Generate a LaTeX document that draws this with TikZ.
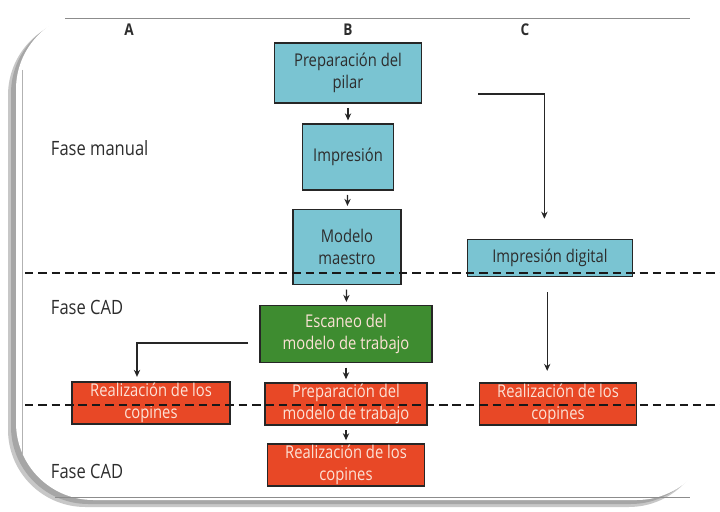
\documentclass[tikz,border=0pt]{standalone}
\usepackage{fontspec}
\setmainfont[FakeStretch=0.84]{Open Sans}
\usepackage{tikz}
\usetikzlibrary{positioning,calc,arrows.meta}

\definecolor{boxcyan}{RGB}{122,196,210}
\definecolor{boxgreen}{RGB}{62,140,48}
\definecolor{boxred}{RGB}{232,72,38}
\definecolor{txtdark}{RGB}{45,45,45}
\definecolor{txtlight}{RGB}{252,226,214}

\tikzset{
  stage/.style={draw=black!85, line width=1.1pt, align=center, inner sep=1pt,
    font=\fontsize{12.5}{15.5}\selectfont},
  manualbox/.style={stage, fill=boxcyan, text=txtdark},
  scanbox/.style={stage, fill=boxgreen, text=txtlight},
  cadbox/.style={stage, fill=boxred, text=txtlight},
  arr/.style={-{Stealth[length=5pt,width=4.5pt]}, line width=0.9pt, black!85},
  phase/.style={dash pattern=on 6pt off 3.5pt, line width=1.4pt, black!90},
  phaselabel/.style={anchor=west, text=txtdark, font=\fontsize{14}{16}\selectfont},
  column/.style={text=txtdark, font=\fontsize{11.5}{14}\selectfont\bfseries}
}

\begin{document}
\begin{tikzpicture}[x=0.025cm, y=-0.025cm]
    \useasboundingbox (0,0) rectangle (720,511);
    \fill[white] (0,0) rectangle (720,511);

    % frame of the page
    \fill[black!22, rounded corners=55] (8,18) rectangle (706,507);
    \fill[black!35, rounded corners=55] (11,16) rectangle (708,504);
    \fill[white, rounded corners=55] (16,12) rectangle (714,500);
    \draw[black!45, line width=0.6pt] (65,18) -- (690,18);
    \draw[black!30, line width=0.6pt] (22,70) -- (22,455);
    \draw[black!45, line width=0.6pt] (55,497) -- (690,497);

    % columns
    \node[column] (colA) at (129,30) {A};
    \node[column] (colB) at (348,30) {B};
    \node[column] (colC) at (525,30) {C};

    % phases
    \node[phaselabel] (fmanual) at (46,148) {Fase manual};
    \node[phaselabel] (fcad1) at (46,307) {Fase CAD};
    \node[phaselabel] (fcad2) at (46,471) {Fase CAD};

    % column B
    \node[manualbox, minimum width=3.675cm, minimum height=1.5cm] (pilar) at (348,73) {Preparación del\\pilar};
    \node[manualbox, minimum width=2.275cm, minimum height=1.65cm] (impresion) at (348,157) {Impresión};
    \node[manualbox, minimum width=2.7cm, minimum height=1.875cm] (maestro) at (347,247) {Modelo\\maestro};
    \node[scanbox, minimum width=4.3cm, minimum height=1.425cm] (escaneo) at (346,334) {Escaneo del\\modelo de trabajo};
    \node[cadbox, minimum width=4.05cm, minimum height=1.05cm] (trabajo) at (346,404) {Preparación del\\modelo de trabajo};
    \node[cadbox, minimum width=3.925cm, minimum height=1cm] (copinesB) at (346,465) {Realización de los\\copines};

    % column A
    \node[cadbox, minimum width=3.95cm, minimum height=1.025cm] (copinesA) at (151,403) {Realización de los\\copines};

    % column C
    \node[manualbox, minimum width=4.125cm, minimum height=0.925cm] (digital) at (550,258) {Impresión digital};
    \node[cadbox, minimum width=3.925cm, minimum height=1.025cm] (copinesC) at (558,404) {Realización de los\\copines};

    \coordinate (startC) at (478,94);
    \coordinate (startA) at (248,343);

    % arrows
    \draw[arr, shorten <=3pt, shorten >=2pt] (pilar) -- (impresion);
    \draw[arr, shorten <=3pt, shorten >=2pt] (impresion) -- (maestro);
    \draw[arr, shorten <=3pt, shorten >=2pt] (maestro) -- (escaneo);
    \draw[arr, shorten <=3pt, shorten >=2pt] (escaneo) -- (trabajo);
    \draw[arr, shorten <=3pt, shorten >=2pt] (trabajo) -- (copinesB);
    \draw[arr, shorten >=0.5cm] (startC) -| ([xshift=-4pt]digital.north);
    \draw[arr, shorten <=0.38cm, shorten >=0.28cm] ([xshift=-2pt]digital.south) -- ([xshift=-2pt]digital.south |- copinesC.north);
    \draw[arr, shorten >=3pt] (startA) -| ([xshift=-0.35cm]copinesA.north);

    % phase borders
    \draw[phase] (25,273) -- (720,273);
    \draw[phase] (25,405) -- (720,405);
\end{tikzpicture}
\end{document}
